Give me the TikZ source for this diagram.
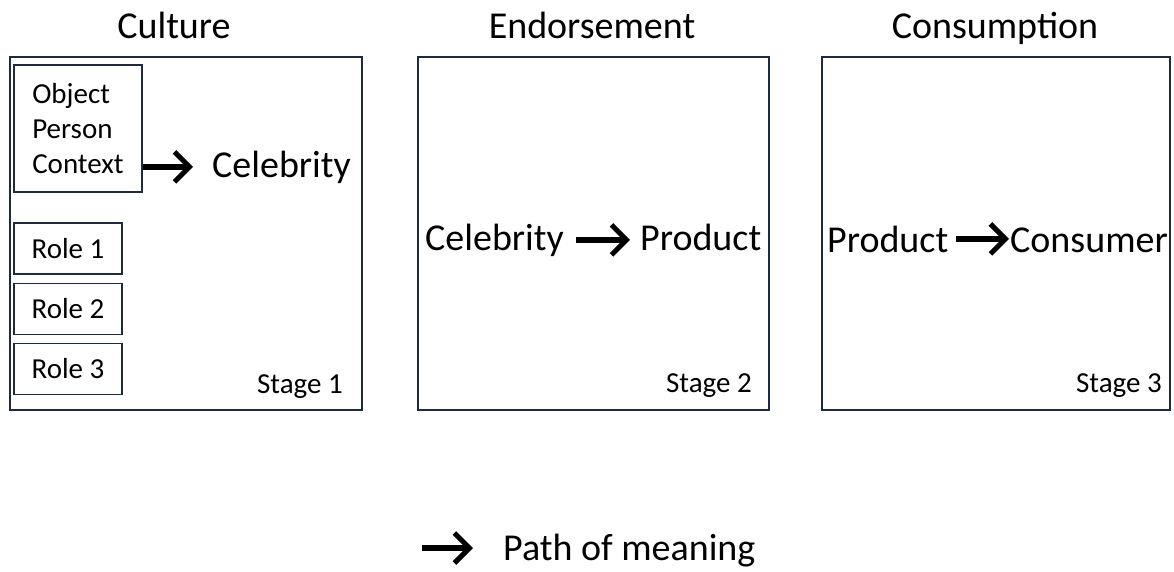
\documentclass[tikz,border=0pt]{standalone}
\usepackage{fontspec}
\setmainfont{Carlito}
\usetikzlibrary{arrows.meta}

\definecolor{boxline}{RGB}{30,42,62}

\tikzset{
  stagebox/.style={draw=boxline, line width=2pt, inner sep=0pt},
  smallbox/.style={draw=boxline, line width=1.8pt, inner sep=0pt, align=left},
  bigtext/.style={inner sep=0pt, font=\fontsize{38}{40}\selectfont},
  smalltext/.style={inner sep=0pt, font=\fontsize{29}{35}\selectfont},
  meaning/.style={line width=5.5pt, -{Straight Barb[length=15pt 0, width=30pt 0, line width=5pt]}}
}

\begin{document}
\begin{tikzpicture}[x=1pt, y=-1pt]
  \useasboundingbox (0, 0) rectangle (1174, 571);

  % three stages
  \node[stagebox, minimum width=352, minimum height=353] (st1) at (186, 233.5) {};
  \node[stagebox, minimum width=351, minimum height=353] (st2) at (593.5, 233.5) {};
  \node[stagebox, minimum width=348, minimum height=353] (st3) at (996, 233.5) {};

  \node[bigtext, anchor=base] (t1) at (174, 38) {Culture};
  \node[bigtext, anchor=base] (t2) at (592, 38) {Endorsement};
  \node[bigtext, anchor=base] (t3) at (995, 38) {Consumption};

  \node[smalltext, anchor=base east] (s1) at (343, 393) {Stage 1};
  \node[smalltext, anchor=base east] (s2) at (752, 392) {Stage 2};
  \node[smalltext, anchor=base east] (s3) at (1162, 392) {Stage 3};

  % stage 1
  \node[smallbox, smalltext, minimum width=128, minimum height=127] (opc) at (78, 128.5)
    {Object\\Person\\Context};
  \foreach \r/\y in {1/248.5, 2/309, 3/369} {
    \node[smallbox, smalltext, minimum width=108, minimum height=51] (role\r) at (68, \y) {Role \r};
  }
  \node[bigtext, anchor=base west] (cel1) at (212, 177) {Celebrity};
  \draw[meaning, shorten >=19pt] (opc.east |- cel1.west) -- (cel1.west);

  % stage 2
  \node[bigtext, anchor=base west] (cel2) at (425, 250) {Celebrity};
  \node[bigtext, anchor=base west] (prod2) at (640, 250) {Product};
  \draw[meaning, shorten <=12pt, shorten >=10pt] (cel2.east) -- (cel2.east -| prod2.west);

  % stage 3
  \node[bigtext, anchor=base west] (prod3) at (827, 252) {Product};
  \node[bigtext, anchor=base west] (cons3) at (1010, 252) {Consumer};
  \draw[meaning, shorten <=8pt, shorten >=1pt] (prod3.east) -- (prod3.east -| cons3.west);

  % legend
  \node[bigtext, anchor=base west] (legend) at (503, 560) {Path of meaning};
  \coordinate (legstart) at (422, 548);
  \draw[meaning, shorten >=30pt] (legstart) -- (legstart -| legend.west);
\end{tikzpicture}
\end{document}
